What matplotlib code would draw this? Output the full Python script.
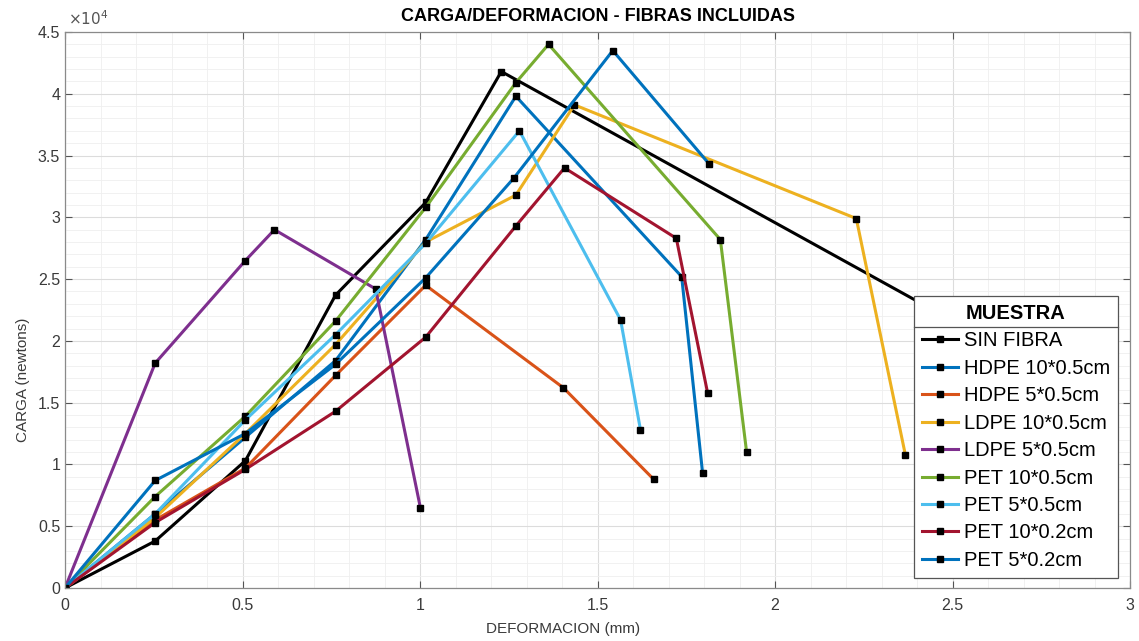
import matplotlib
matplotlib.use("Agg")
import matplotlib.pyplot as plt
from matplotlib.ticker import MultipleLocator, FuncFormatter
from matplotlib.lines import Line2D

plt.rcParams['font.family'] = ['Liberation Sans', 'DejaVu Sans']

# deformacion (mm) / carga (N) por muestra
def_sin = [0, 0.254, 0.508, 0.762, 1.016, 1.229, 2.54]
carga_sin = [0, 3800, 10300, 23700, 31200, 41800, 21000]

def_hdpe10 = [0, 0.254, 0.508, 0.762, 1.016, 1.27, 1.737, 1.796]
carga_hdpe10 = [0, 6000, 12200, 18400, 28200, 39800, 25200, 9300]

def_hdpe5 = [0, 0.254, 0.508, 0.762, 1.016, 1.404, 1.658]
carga_hdpe5 = [0, 5500, 9700, 17200, 24500, 16200, 8800]

def_ldpe10 = [0, 0.254, 0.508, 0.762, 1.016, 1.27, 1.435, 2.229, 2.367]
carga_ldpe10 = [0, 5700, 12500, 19700, 28000, 31800, 39100, 29900, 10800]

def_ldpe5 = [0, 0.254, 0.508, 0.59, 0.875, 1.001]
carga_ldpe5 = [0, 18200, 26500, 29000, 24200, 6500]

def_pet10_05 = [0, 0.254, 0.508, 0.762, 1.016, 1.27, 1.362, 1.846, 1.92]
carga_pet10_05 = [0, 7400, 13900, 21600, 30800, 40900, 44000, 28200, 11000]

def_pet5_05 = [0, 0.254, 0.508, 0.762, 1.016, 1.28, 1.565, 1.621]
carga_pet5_05 = [0, 6000, 13600, 20500, 27900, 37000, 21700, 12800]

def_pet10_02 = [0, 0.254, 0.508, 0.762, 1.016, 1.27, 1.407, 1.722, 1.81]
carga_pet10_02 = [0, 5300, 9600, 14300, 20300, 29300, 34000, 28300, 15800]

def_pet5_02 = [0, 0.254, 0.508, 0.762, 1.016, 1.265, 1.543, 1.815]
carga_pet5_02 = [0, 8700, 12500, 18100, 25100, 33200, 43500, 34300]

series = [
    ("SIN FIBRA", def_sin, carga_sin, "black"),
    ("HDPE 10*0.5cm", def_hdpe10, carga_hdpe10, "#0072BD"),
    ("HDPE 5*0.5cm", def_hdpe5, carga_hdpe5, "#D95319"),
    ("LDPE 10*0.5cm", def_ldpe10, carga_ldpe10, "#EDB120"),
    ("LDPE 5*0.5cm", def_ldpe5, carga_ldpe5, "#7E2F8E"),
    ("PET 10*0.5cm", def_pet10_05, carga_pet10_05, "#77AC30"),
    ("PET 5*0.5cm", def_pet5_05, carga_pet5_05, "#4DBEEE"),
    ("PET 10*0.2cm", def_pet10_02, carga_pet10_02, "#A2142F"),
    ("PET 5*0.2cm", def_pet5_02, carga_pet5_02, "#0072BD"),
]

fig = plt.figure(figsize=(11.39, 6.41), dpi=100)
ax = fig.add_axes([0.0571, 0.0827, 0.935, 0.8674])

for name, xs, ys, col in series:
    ax.plot(xs, ys, color=col, lw=2.2, marker='s', ms=4.5,
            mfc='black', mec='black', label=name)

ax.set_xlim(0, 3)
ax.set_ylim(0, 45000)
ax.xaxis.set_major_locator(MultipleLocator(0.5))
ax.xaxis.set_minor_locator(MultipleLocator(0.1))
ax.yaxis.set_major_locator(MultipleLocator(5000))
ax.yaxis.set_minor_locator(MultipleLocator(1000))
ax.xaxis.set_major_formatter(FuncFormatter(lambda v, p: f"{v:g}"))
ax.yaxis.set_major_formatter(FuncFormatter(lambda v, p: f"{v / 1e4:g}"))

ax.grid(which='major', color='#dcdcdc', lw=0.8)
ax.grid(which='minor', color='#efefef', lw=0.6)
ax.set_axisbelow(True)
ax.tick_params(which='both', direction='in', top=True, right=True,
               colors='#555555', labelsize=11.5, labelcolor='#3a3a3a')
ax.tick_params(which='major', length=5)
ax.tick_params(axis='x', pad=7)
ax.tick_params(which='minor', length=0)
for s in ax.spines.values():
    s.set_color('#8a8a8a')
    s.set_linewidth(0.9)

ax.text(0.003, 1.008, r"$\times10^{4}$", transform=ax.transAxes,
        fontsize=11, color='#555555', ha='left', va='bottom')

ax.set_title("CARGA/DEFORMACION - FIBRAS INCLUIDAS", fontsize=13,
             fontweight='bold', pad=8)
ax.set_xlabel("DEFORMACION (mm)", fontsize=11, color='#3a3a3a')
ax.set_ylabel("CARGA (newtons)", fontsize=11, color='#3a3a3a')
ax.xaxis.set_label_coords(0.468, -0.062)
ax.yaxis.set_label_coords(-0.033, 0.375)

leg = ax.legend(loc='lower right', bbox_to_anchor=(0.989, 0.018),
                title="MUESTRA", fontsize=14.5,
                title_fontproperties={'weight': 'bold', 'size': 14.5},
                fancybox=False, framealpha=1, edgecolor='#555555',
                handlelength=1.8, handletextpad=0.3, labelspacing=0.42,
                borderpad=0.4, borderaxespad=0)
leg.get_frame().set_linewidth(0.9)
leg.set_zorder(10)

# linea bajo el titulo de la leyenda
fig.canvas.draw()
r = fig.canvas.get_renderer()
lb = leg.get_window_extent(r)
tb = leg.get_title().get_window_extent(r)
ysep = tb.y0 - 4
inv = fig.transFigure.inverted()
(x0, y0), (x1, _) = inv.transform([(lb.x0, ysep), (lb.x1, ysep)])
fig.add_artist(Line2D([x0, x1], [y0, y0], color='#555555', lw=0.9, zorder=20))

fig.savefig("out.png", dpi=100)
